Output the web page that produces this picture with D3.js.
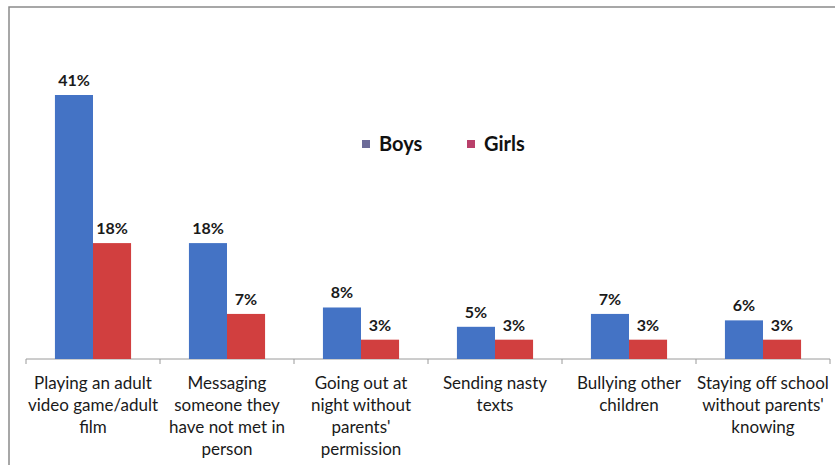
<!DOCTYPE html>
<html lang="en">
<head>
  <meta charset="UTF-8">
  <title>Boys vs Girls</title>
  <script src="https://d3js.org/d3.v7.min.js"></script>
  <style>
    body { margin: 0; background-color: white; font-family: Lato, "Open Sans", sans-serif; }
    .frame { fill: none; stroke: #8a8a8a; stroke-width: 1.5px; }
    .axis { stroke: #9a9a9a; stroke-width: 1px; }
    .value { font-weight: bold; font-size: 16px; fill: #1a1a1a; text-anchor: middle; }
    .cat { font-size: 17px; fill: #1a1a1a; text-anchor: middle; }
    .legend { font-weight: bold; font-size: 20px; fill: #111; }
  </style>
</head>
<body>

<svg id="svg"></svg>

<script>
// Data
const categories = [
  ["Playing an adult", "video game/adult", "film"],
  ["Messaging", "someone they", "have not met in", "person"],
  ["Going out at", "night without", "parents'", "permission"],
  ["Sending nasty", "texts"],
  ["Bullying other", "children"],
  ["Staying off school", "without parents'", "knowing"]
];
const boys = [41, 18, 8, 5, 7, 6];
const girls = [18, 7, 3, 3, 3, 3];
const seriesNames = ["Boys", "Girls"];

// Configuration
const width = 835;
const height = 465;
const barColours = ["#4473c5", "#d13f3f"];
const legendColours = ["#6c6b98", "#b9406a"];

const svg = d3.select("#svg").attr("width", width).attr("height", height);

// frame (top and left edges only visible)
svg.append("path").attr("class", "frame")
  .attr("d", "M9," + height + "L9,7L" + width + ",7");

const x = d3.scaleBand().domain(d3.range(categories.length)).range([26, 830]).paddingInner(0).paddingOuter(0);
const y = d3.scaleLinear().domain([0, 41]).range([359, 95]);
const inner = d3.scaleBand().domain([0, 1]).range([0, x.bandwidth()]).paddingOuter(0.76).paddingInner(0);

// axis line with tick marks
svg.append("line").attr("class", "axis")
  .attr("x1", x.range()[0]).attr("x2", x.range()[1])
  .attr("y1", y(0)).attr("y2", y(0));
svg.selectAll(".tick").data(d3.range(categories.length + 1)).join("line")
  .attr("class", "axis")
  .attr("x1", d => x.range()[0] + d * x.step())
  .attr("x2", d => x.range()[0] + d * x.step())
  .attr("y1", y(0)).attr("y2", y(0) + 5);

const rows = [];
categories.forEach((c, i) => {
  rows.push({cat: i, s: 0, v: boys[i]});
  rows.push({cat: i, s: 1, v: girls[i]});
});

svg.append("g").selectAll("rect").data(rows).join("rect")
  .attr("x", d => x(d.cat) + inner(d.s))
  .attr("width", inner.bandwidth())
  .attr("y", d => y(d.v))
  .attr("height", d => y(0) - y(d.v))
  .attr("fill", d => barColours[d.s]);

svg.append("g").selectAll("text").data(rows).join("text")
  .attr("class", "value")
  .attr("x", d => x(d.cat) + inner(d.s) + inner.bandwidth() / 2)
  .attr("y", d => y(d.v) - 9)
  .text(d => d.v + "%");

// category labels
const catG = svg.append("g").selectAll("text").data(categories).join("text")
  .attr("class", "cat")
  .attr("x", (d, i) => x(i) + x.bandwidth() / 2)
  .attr("y", 389);
catG.selectAll("tspan").data(d => d).join("tspan")
  .attr("x", function() { return d3.select(this.parentNode).attr("x"); })
  .attr("dy", (d, j) => j == 0 ? 0 : 22)
  .text(d => d);

// legend
const legendX = [362, 467];
const legend = svg.append("g").selectAll("g").data(seriesNames).join("g")
  .attr("transform", (d, i) => "translate(" + legendX[i] + ",140)");
legend.append("rect").attr("width", 8).attr("height", 8)
  .attr("fill", (d, i) => legendColours[i]);
legend.append("text").attr("class", "legend")
  .attr("x", 17).attr("y", 11).text(d => d);
</script>

</body>
</html>
